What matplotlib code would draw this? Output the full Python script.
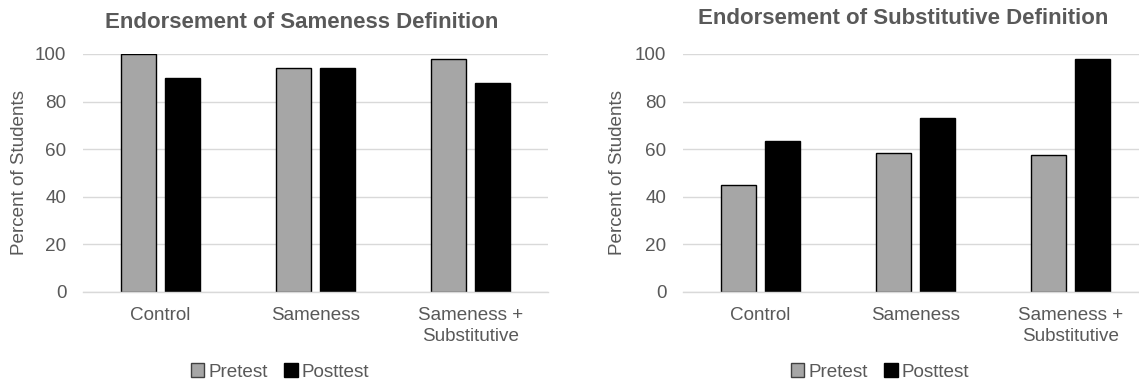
import matplotlib
matplotlib.use("Agg")
import matplotlib.pyplot as plt
import numpy as np
from matplotlib.patches import Patch

categories = ["Control", "Sameness", "Sameness +\nSubstitutive"]
series_names = ["Pretest", "Posttest"]
sameness_pre = [100, 94, 98]
sameness_post = [90, 94, 88]
subst_pre = [45, 58.5, 57.5]
subst_post = [63.5, 73, 98]
titles = ["Endorsement of Sameness Definition", "Endorsement of Substitutive Definition"]
yticks = [0, 20, 40, 60, 80, 100]

plt.rcParams['font.family'] = ['Liberation Sans', 'DejaVu Sans']
TXT = "#595959"
PRE = "#a6a6a6"
POST = "#000000"
GRID = "#d9d9d9"
FS = 13.6

W, H = 1139, 383
fig = plt.figure(figsize=(W / 100, H / 100), dpi=100)

def px_axes(x0, x1, ytop, ybot):
    return fig.add_axes([x0 / W, 1 - ybot / H, (x1 - x0) / W, (ybot - ytop) / H])

axes = [px_axes(83, 548, 54, 292), px_axes(683, 1148, 54, 292)]
data = [(sameness_pre, sameness_post), (subst_pre, subst_post)]

bw = 0.226
off = 0.142
x = np.arange(len(categories))
for ax, (pre, post) in zip(axes, data):
    ax.bar(x - off, pre, bw, color=PRE, edgecolor="black", linewidth=1.0, zorder=3)
    ax.bar(x + off, post, bw, color=POST, edgecolor="black", linewidth=1.0, zorder=3)
    ax.set_xlim(-0.5, 2.5)
    ax.set_ylim(0, 100)
    ax.set_yticks(yticks)
    ax.set_xticks(x)
    ax.set_xticklabels(categories, color=TXT, fontsize=FS, linespacing=1.3)
    ax.tick_params(axis='y', colors=TXT, labelsize=FS, length=0, pad=12)
    ax.tick_params(axis='x', colors=TXT, length=0, pad=11)
    ax.yaxis.grid(True, color=GRID, linewidth=1.0, zorder=0)
    for s in ["top", "right", "left"]:
        ax.spines[s].set_visible(False)
    ax.spines["bottom"].set_color(GRID)
    ax.spines["bottom"].set_linewidth(1.0)
    ax.spines["bottom"].set_zorder(4)

fig.text(20 / W, 1 - 173 / H, "Percent of Students", rotation=90, color=TXT,
         fontsize=FS, ha="center", va="center")
fig.text(618 / W, 1 - 173 / H, "Percent of Students", rotation=90, color=TXT,
         fontsize=FS, ha="center", va="center")
fig.text(302 / W, 1 - 22 / H, titles[0], color=TXT, fontsize=16, fontweight="bold",
         ha="center", va="center")
fig.text(903 / W, 1 - 18 / H, titles[1], color=TXT, fontsize=16, fontweight="bold",
         ha="center", va="center")

handles = [Patch(facecolor=PRE, edgecolor="#404040", linewidth=1.0),
           Patch(facecolor=POST, edgecolor="black", linewidth=1.0)]
for cx in (280 / W, 880 / W):
    fig.legend(handles, series_names, loc="center", bbox_to_anchor=(cx, 1 - 372 / H),
               ncol=2, frameon=False, fontsize=FS, handlelength=0.7,
               handleheight=0.7, handletextpad=0.2, columnspacing=0.9,
               labelcolor=TXT, borderpad=0)

fig.savefig("out.png", dpi=100, facecolor="white")
